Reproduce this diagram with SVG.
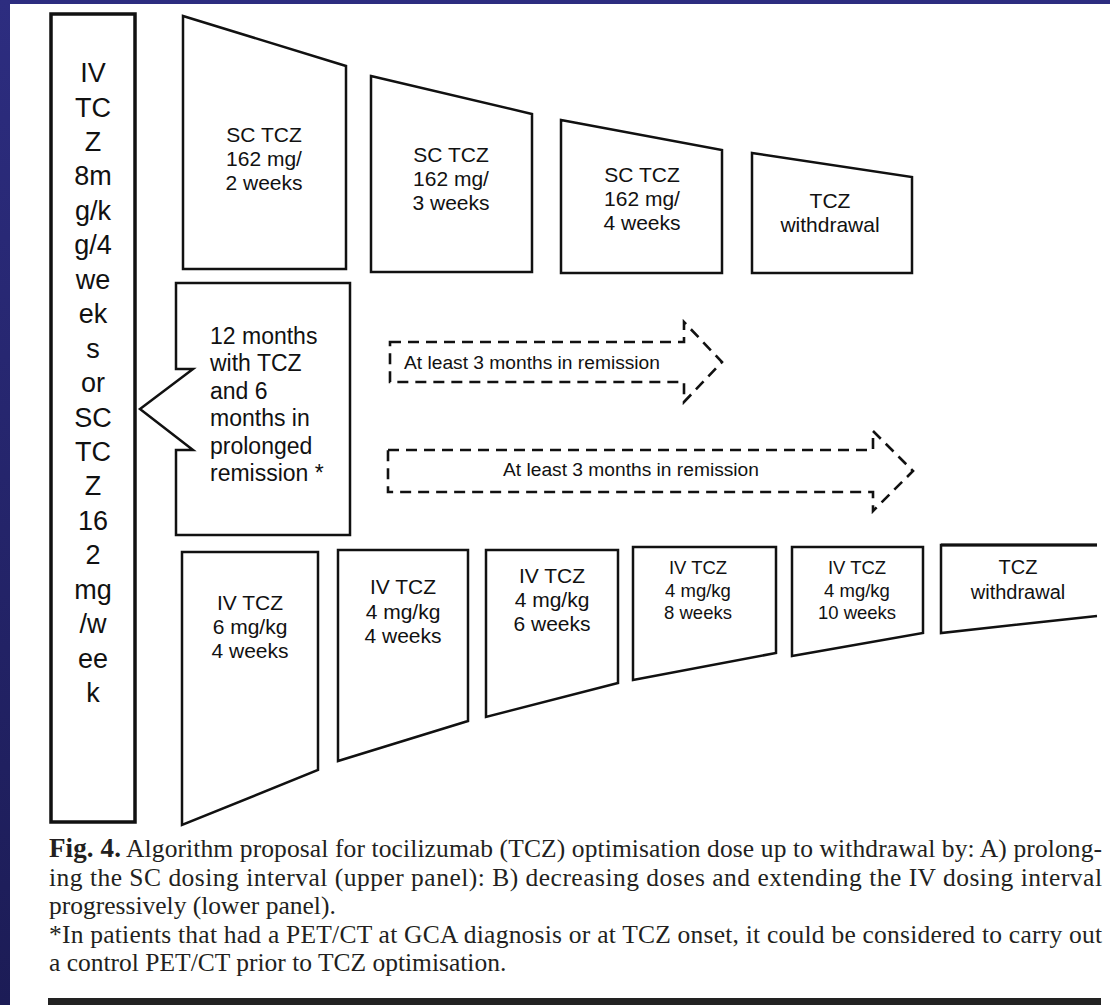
<svg xmlns="http://www.w3.org/2000/svg" width="1110" height="1005" viewBox="0 0 1110 1005">
<defs>
<linearGradient id="bg" x1="0" y1="0" x2="0" y2="1">
<stop offset="0" stop-color="#2d2d80"/>
<stop offset="1" stop-color="#1c1c56"/>
</linearGradient>
<style>
.box{fill:#fff;stroke:#111;stroke-width:2.5;stroke-linejoin:miter}
.dash{fill:none;stroke:#111;stroke-width:2.6;stroke-dasharray:11 7}
.t{font-family:"Liberation Sans",Arial,sans-serif;fill:#111;text-anchor:middle}
.f21{font-size:21px}
.f18{font-size:18.5px}
.f19{font-size:19.2px}
.col{font-family:"Liberation Sans",Arial,sans-serif;font-size:27px;fill:#111;text-anchor:middle}
.cap{font-family:"Liberation Serif","Times New Roman",serif;font-size:25.5px;fill:#231f20}
</style>
</defs>
<rect x="0" y="0" width="1110" height="1005" fill="url(#bg)"/>
<rect x="10" y="4" width="1100" height="1001" fill="#fff"/>

<g id="left-column">
<rect x="51" y="14" width="84" height="808" fill="#fff" stroke="#111" stroke-width="3.5"/>
<text class="col" x="93" y="82">IV</text>
<text class="col" x="93" y="116.5">TC</text>
<text class="col" x="93" y="150.9">Z</text>
<text class="col" x="93" y="185.4">8m</text>
<text class="col" x="93" y="219.8">g/k</text>
<text class="col" x="93" y="254.3">g/4</text>
<text class="col" x="93" y="288.7">we</text>
<text class="col" x="93" y="323.2">ek</text>
<text class="col" x="93" y="357.6">s</text>
<text class="col" x="93" y="392.1">or</text>
<text class="col" x="93" y="426.5">SC</text>
<text class="col" x="93" y="461">TC</text>
<text class="col" x="93" y="495.4">Z</text>
<text class="col" x="93" y="529.9">16</text>
<text class="col" x="93" y="564.3">2</text>
<text class="col" x="93" y="598.8">mg</text>
<text class="col" x="93" y="633.2">/w</text>
<text class="col" x="93" y="667.7">ee</text>
<text class="col" x="93" y="702">k</text>
</g>

<g id="sc-2weeks">
<polygon class="box" points="183,16 346,66 346,269 183,269"/>
<text class="t f21" x="264" y="142">SC TCZ</text>
<text class="t f21" x="264" y="166">162 mg/</text>
<text class="t f21" x="264" y="190">2 weeks</text>
</g>
<g id="sc-3weeks">
<polygon class="box" points="371,76 532,114 532,272 371,272"/>
<text class="t f21" x="451" y="162">SC TCZ</text>
<text class="t f21" x="451" y="186">162 mg/</text>
<text class="t f21" x="451" y="210">3 weeks</text>
</g>
<g id="sc-4weeks">
<polygon class="box" points="561,120 722,150 722,273 561,273"/>
<text class="t f21" x="642" y="182">SC TCZ</text>
<text class="t f21" x="642" y="206">162 mg/</text>
<text class="t f21" x="642" y="230">4 weeks</text>
</g>
<g id="sc-withdrawal">
<polygon class="box" points="752,153 912,177 912,273 752,273"/>
<text class="t f21" x="830" y="208">TCZ</text>
<text class="t f21" x="830" y="232">withdrawal</text>
</g>

<g id="callout">
<path class="box" stroke-width="3" d="M176,283 H350 V535 H176 V450 H193 L140,409 L193,369 H176 Z"/>
<text font-family="Liberation Sans, Arial, sans-serif" font-size="23" fill="#111">
<tspan x="210" y="344">12 months</tspan>
<tspan x="210" y="371.4">with TCZ</tspan>
<tspan x="210" y="398.8">and 6</tspan>
<tspan x="210" y="426.2">months in</tspan>
<tspan x="210" y="453.6">prolonged</tspan>
<tspan x="210" y="481">remission *</tspan>
</text>
</g>

<g id="connectors">
<g id="arrow-upper">
<path class="dash" d="M390,342 H684 V322 L722,362 L684,402 V382 H390 Z"/>
<text class="t f19" x="404" y="369" style="text-anchor:start">At least 3 months in remission</text>
</g>
<g id="arrow-lower">
<path class="dash" d="M388,450 H873 V431 L913,471 L873,511 V492 H388 Z"/>
<text class="t f19" x="631" y="476">At least 3 months in remission</text>
</g>
</g>

<g id="iv-6mg-4w">
<polygon class="box" points="182,552 318,552 318,770 182,825"/>
<text class="t f21" x="250" y="610">IV TCZ</text>
<text class="t f21" x="250" y="634">6 mg/kg</text>
<text class="t f21" x="250" y="658">4 weeks</text>
</g>
<g id="iv-4mg-4w">
<polygon class="box" points="338,550 468,550 468,721 338,761"/>
<text class="t f21" x="403" y="594">IV TCZ</text>
<text class="t f21" x="403" y="619">4 mg/kg</text>
<text class="t f21" x="403" y="643">4 weeks</text>
</g>
<g id="iv-4mg-6w">
<polygon class="box" points="486,550 618,550 618,683 486,717"/>
<text class="t f21" x="552" y="583">IV TCZ</text>
<text class="t f21" x="552" y="607">4 mg/kg</text>
<text class="t f21" x="552" y="631">6 weeks</text>
</g>
<g id="iv-4mg-8w">
<polygon class="box" points="633,547 776,547 776,653 633,680"/>
<text class="t f18" x="698" y="574">IV TCZ</text>
<text class="t f18" x="698" y="597">4 mg/kg</text>
<text class="t f18" x="698" y="619">8 weeks</text>
</g>
<g id="iv-4mg-10w">
<polygon class="box" points="792,547 923,547 923,633 792,656"/>
<text class="t f18" x="857" y="574">IV TCZ</text>
<text class="t f18" x="857" y="597">4 mg/kg</text>
<text class="t f18" x="857" y="619">10 weeks</text>
</g>
<g id="iv-withdrawal">
<path d="M1097,545 H941 V633 L1097,616" fill="#fff" stroke="#111" stroke-width="2.5"/>
<line x1="941" y1="545" x2="1097" y2="545" stroke="#111" stroke-width="3.2"/>
<text class="t" font-size="20" x="1018" y="574">TCZ</text>
<text class="t" font-size="20" x="1018" y="599">withdrawal</text>
</g>

<g id="caption">
<text class="cap" x="49" y="857" textLength="1053"><tspan font-weight="bold" font-size="27">Fig. 4.</tspan> Algorithm proposal for tocilizumab (TCZ) optimisation dose up to withdrawal by: A) prolong-</text>
<text class="cap" x="49" y="885.5" textLength="1053">ing the SC dosing interval (upper panel): B) decreasing doses and extending the IV dosing interval</text>
<text class="cap" x="49" y="914">progressively (lower panel).</text>
<text class="cap" x="49" y="943" textLength="1053">*In patients that had a PET/CT at GCA diagnosis or at TCZ onset, it could be considered to carry out</text>
<text class="cap" x="49" y="971">a control PET/CT prior to TCZ optimisation.</text>
</g>
<rect x="48" y="998" width="1053" height="7" fill="#222"/>
</svg>
